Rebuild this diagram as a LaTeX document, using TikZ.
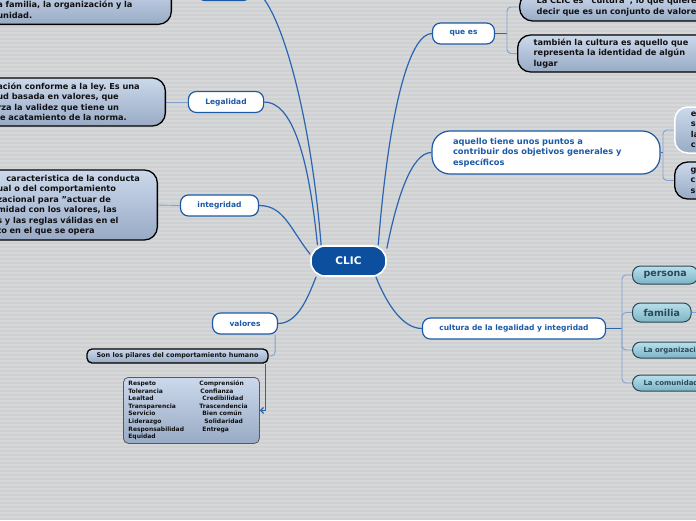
\documentclass[tikz,border=0pt]{standalone}
\usepackage{fontspec}
\setmainfont{DejaVu Sans}
\usepackage{tikz}
\usetikzlibrary{arrows.meta,positioning,calc}
\pgfdeclarelayer{back}
\pgfsetlayers{back,main}
\frenchspacing
\definecolor{MapBg}{HTML}{CFD0D2}
\definecolor{MapStripe}{HTML}{D6D7D9}
\definecolor{MapBlue}{HTML}{1C5AA6}
\definecolor{MapCore}{HTML}{0B4F9E}
\definecolor{MapLink}{HTML}{2A66B0}
\definecolor{MapTwig}{HTML}{7FA2CE}
\definecolor{LeafTop}{HTML}{CCD9EC}
\definecolor{LeafBot}{HTML}{98AAC5}
\definecolor{TealTop}{HTML}{B8E0EB}
\definecolor{TealBot}{HTML}{7DB4C5}
\definecolor{TealInk}{HTML}{2B4858}
\definecolor{LeafInk}{HTML}{111111}

\begin{document}
\begin{tikzpicture}[x=1pt,y=-1pt,
  core/.style={draw=white,line width=1.6pt,fill=MapCore,rounded corners=14pt,
    minimum width=75pt,minimum height=30pt,text=white,
    font=\bfseries\fontsize{10.5}{12}\selectfont},
  branch/.style={draw=MapBlue,line width=1.2pt,fill=white,rounded corners=8pt,
    minimum height=21pt,inner xsep=17pt,text=MapBlue,
    font=\bfseries\fontsize{7.5}{9}\selectfont},
  leaf/.style={draw=black,line width=1.3pt,rounded corners=13pt,
    top color=LeafTop,bottom color=LeafBot,text=LeafInk,align=left,
    inner xsep=10pt,font=\bfseries\fontsize{8.2}{10.5}\selectfont},
  pillar/.style={draw=black,line width=1.3pt,rounded corners=5pt,
    top color=LeafTop,bottom color=LeafBot,text=LeafInk,inner sep=0pt,
    font=\bfseries\fontsize{6.5}{8}\selectfont},
  sheet/.style={draw=gray!70!black,line width=0.8pt,rounded corners=5pt,
    top color=LeafTop,bottom color=LeafBot,text=LeafInk,align=left,
    inner xsep=5pt,inner ysep=0pt,font=\bfseries\fontsize{6}{7.6}\selectfont},
  twin/.style={draw=TealInk,line width=1pt,rounded corners=8pt,
    top color=TealTop,bottom color=TealBot,text=TealInk,inner xsep=11pt,
    inner ysep=0pt,anchor=west,font=\bfseries\fontsize{9.5}{11}\selectfont},
  link/.style={MapLink,line width=1.2pt},
  twig/.style={MapTwig,line width=0.9pt,rounded corners=4pt}]

  \useasboundingbox (0,0) rectangle (696,520);
  \clip (0,0) rectangle (696,520);
  \begin{pgfonlayer}{back}
    \fill[MapBg] (0,0) rectangle (696,520);
    \foreach \yy in {0,4,...,516}
      \fill[MapStripe] (0,\yy) rectangle (696,\yy+2);
  \end{pgfonlayer}

  % Centre.
  \node[core] (clic) at (348.5,261) {CLIC};

  % Left side.
  \node[branch,minimum width=54pt] (topnode) at (224,-10) {};
  \node[leaf,anchor=south east,text width=164pt,minimum height=40pt] (topleaf)
    at (172,25) {\strut\\a familia, la organización y la\\unidad.};
  \node[branch] (legalidad) at (226,102) {Legalidad};
  \node[leaf,anchor=east,text width=158pt,minimum height=48pt] (legalleaf)
    at (166,102) {ación conforme a la ley. Es una\\ud basada en valores, que\\
    rza la validez que tiene un\\le acatamiento de la norma.};
  \node[branch] (integridad) at (219.5,205.5) {integridad};
  \node[leaf,anchor=east,text width=150pt,minimum height=70pt] (integleaf)
    at (158,205) {\hspace*{9pt}caracteristica de la conducta\\ual o del comportamiento\\
    zacional para "actuar de\\midad con los valores, las\\
    s y las reglas válidas en el\\to en el que se opera};
  \node[branch] (valores) at (245,323.5) {valores};
  \node[pillar,minimum width=181pt,minimum height=14pt] (pilares) at (177.5,356)
    {Son los pilares del comportamiento humano};
  \node[sheet,anchor=north west,text width=126pt,minimum height=66pt] (valuelist)
    at (123,377) {\makebox[71pt][l]{Respeto}Comprensión\\
    \makebox[71pt][l]{Tolerancia}\hspace*{1pt}Confianza\\
    \makebox[71pt][l]{Lealtad}\hspace*{3pt}Credibilidad\\
    \makebox[71pt][l]{Transparencia}Trascendencia\\
    \makebox[71pt][l]{Servicio}\hspace*{3pt}Bien común\\
    \makebox[71pt][l]{Liderazgo}\hspace*{5pt}Solidaridad\\
    \makebox[71pt][l]{Responsabilidad}\hspace*{3pt}Entrega\\
    Equidad};

  % Right side.
  \node[branch] (quees) at (463.5,33.5) {que es};
  \node[leaf,anchor=west,inner xsep=17pt,text width=230pt,minimum height=28pt]
    (qeleafone) at (519,7) {La CLIC es "cultura", lo que quiere\\
    decir que es un conjunto de valores};
  \node[leaf,anchor=west,inner xsep=16pt,text width=230pt,minimum height=37pt]
    (qeleaftwo) at (517,53.5) {también la cultura es aquello que\\
    representa la identidad de algún\\lugar};
  \node[branch,font=\bfseries\fontsize{8.3}{10.5}\selectfont,align=left,
    text width=186pt,inner xsep=21pt,minimum height=43pt,rounded corners=18pt]
    (aquello) at (546,152.5) {aquello tiene unos puntos a\\
    contribuir dos objetivos generales y\\específicos};
  \node[leaf,draw=white,line width=1.5pt,anchor=west,inner xsep=16pt,
    text width=60pt,minimum height=46pt] (aqleafone) at (674,130)
    {es\\se\\la\\co};
  \node[leaf,anchor=west,inner xsep=16pt,text width=60pt,minimum height=37pt]
    (aqleaftwo) at (674,180.5) {g\\co\\se};
  \node[branch] (cultura) at (514,328.5) {cultura de la legalidad y integridad};
  \node[twin,minimum height=18pt] (persona) at (632,275) {persona};
  \node[twin,minimum height=19pt] (familia) at (632,312.5) {familia};
  \node[twin,minimum height=16pt,font=\bfseries\fontsize{7}{8}\selectfont]
    (organiz) at (632,350) {La organización};
  \node[twin,minimum height=16pt,font=\bfseries\fontsize{7}{8}\selectfont]
    (comunidad) at (632,383) {La comunidad};
  \coordinate (qesplit) at (507,33.5);
  \coordinate (aqsplit) at (663,152.5);
  \coordinate (cusplit) at (622,328.5);
  \coordinate (famout) at (705,312.5);

  % Connectors.
  \begin{pgfonlayer}{back}
    \draw[link] (topnode.east) .. controls +(22,0) and +(-12,-150) .. (clic.150);
    \draw[link] (legalidad.east) .. controls +(25,0) and +(-10,-100) .. (clic.153);
    \draw[link] (integridad.east) .. controls +(25,0) and +(-20,-25) .. (clic.170);
    \draw[link] (valores.east) .. controls +(20,0) and +(-8,20) .. (clic.206);
    \draw[link] (quees.west) .. controls +(-20,0) and +(12,-150) .. (clic.28);
    \draw[link] (aquello.west) .. controls +(-20,0) and +(10,-50) .. (clic.18);
    \draw[link] (cultura.west) .. controls +(-20,0) and +(10,25) .. (clic.-30);
    \draw[twig] (legalleaf.east) -- (legalidad.west);
    \draw[twig] (integleaf.east) -- (integridad.west);
    \draw[twig] ([xshift=-3pt]valores.south east) |- (pilares.east);
    \draw[link] (quees.east) -- (qesplit);
    \draw[twig] (qeleafone.west) -| (qesplit) |- (qeleaftwo.west);
    \draw[link] (aquello.east) -- (aqsplit);
    \draw[twig] (aqleafone.west) -| (aqsplit) |- (aqleaftwo.west);
    \draw[link,line width=1.6pt] (cultura.east) -- (cusplit);
    \draw[twig] (persona.west) -| (cusplit) |- (comunidad.west);
    \draw[twig] (familia.west) -| (cusplit);
    \draw[twig] (organiz.west) -| (cusplit);
    \draw[twig] (familia.east) -- (famout);
  \end{pgfonlayer}
  \draw[link,-{Straight Barb[length=3pt,width=6pt]}]
    ([xshift=-3pt]pilares.south east) |- (valuelist.east);
\end{tikzpicture}
\end{document}
